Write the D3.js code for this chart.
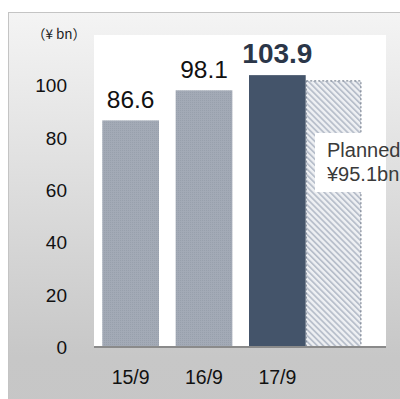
<!DOCTYPE html>
<html><head><meta charset="utf-8">
<script src="https://cdn.jsdelivr.net/npm/d3@7"></script>
<style>html,body{margin:0;padding:0;background:#fff;overflow:hidden}</style>
</head><body>
<svg id="c" width="400" height="399"></svg>
<script>
const categories = ["15/9", "16/9", "17/9"];
const values = [86.6, 98.1, 103.9];
const plannedValue = 101.7;
const plannedLabel = ["Planned", "¥95.1bn"];
const yTicks = [0, 20, 40, 60, 80, 100];
const unitLabel = "（¥ bn）";

const svg = d3.select("#c");
const defs = svg.append("defs");

const grad = defs.append("linearGradient").attr("id", "bg")
  .attr("x1", 0).attr("y1", 0).attr("x2", 0).attr("y2", 1);
grad.append("stop").attr("offset", "0").attr("stop-color", "#f4f4f4");
grad.append("stop").attr("offset", "0.82").attr("stop-color", "#c7c7c7");
grad.append("stop").attr("offset", "1").attr("stop-color", "#c6c6c6");

const hatch = defs.append("pattern").attr("id", "hatch")
  .attr("patternUnits", "userSpaceOnUse").attr("width", 4.2).attr("height", 4.2)
  .attr("patternTransform", "rotate(-45)");
hatch.append("rect").attr("width", 4.2).attr("height", 4.2).attr("fill", "#eef0f3");
hatch.append("rect").attr("width", 1.8).attr("height", 4.2).attr("fill", "#b8bfcb");

const dots = defs.append("pattern").attr("id", "dots")
  .attr("patternUnits", "userSpaceOnUse").attr("width", 2).attr("height", 2);
dots.append("rect").attr("width", 2).attr("height", 2).attr("fill", "#a3aab6");
dots.append("rect").attr("width", 1).attr("height", 1).attr("fill", "#98a0ac");

// outer panel
svg.append("rect").attr("x", 8.5).attr("y", 12.5).attr("width", 420).attr("height", 420)
  .attr("fill", "url(#bg)").attr("stroke", "#c4c4c4").attr("stroke-width", 1);

const plot = { left: 94, right: 386, top: 35, bottom: 347 };

const y = d3.scaleLinear().domain([0, 120]).range([plot.bottom, 33]);
const x = d3.scaleBand().domain(categories).range([94, 314])
  .paddingInner(0.227).paddingOuter(0.113);

// plot area
svg.append("rect").attr("x", plot.left).attr("y", plot.top)
  .attr("width", plot.right - plot.left).attr("height", plot.bottom - plot.top)
  .attr("fill", "#ffffff");

// bars
svg.selectAll("rect.bar").data(values).enter().append("rect").attr("class", "bar")
  .attr("x", (d, i) => x(categories[i]))
  .attr("y", d => y(d))
  .attr("width", x.bandwidth())
  .attr("height", d => y(0) - y(d))
  .attr("fill", (d, i) => i === values.length - 1 ? "#44546a" : "url(#dots)");

// planned bar
const last = categories[categories.length - 1];
svg.append("rect")
  .attr("x", x(last) + x.bandwidth() + 0.5)
  .attr("y", y(plannedValue))
  .attr("width", x.bandwidth() - 2)
  .attr("height", y(0) - y(plannedValue))
  .attr("fill", "url(#hatch)")
  .attr("stroke", "#6b7585").attr("stroke-width", 1).attr("stroke-dasharray", "2,2");

// value labels
svg.selectAll("text.val").data(values).enter().append("text").attr("class", "val")
  .attr("x", (d, i) => x(categories[i]) + x.bandwidth() / 2)
  .attr("y", d => y(d) - 12)
  .attr("text-anchor", "middle")
  .attr("font-family", "Liberation Sans, Arial, sans-serif")
  .attr("font-size", (d, i) => i === values.length - 1 ? 28 : 24.5)
  .attr("font-weight", (d, i) => i === values.length - 1 ? "bold" : "normal")
  .attr("fill", (d, i) => i === values.length - 1 ? "#2b3648" : "#111")
  .text(d => d.toFixed(1));

// axis line
svg.append("line").attr("x1", plot.left).attr("x2", plot.right)
  .attr("y1", y(0)).attr("y2", y(0))
  .attr("stroke", "#8a8a8a").attr("stroke-width", 2);

// y tick labels
svg.selectAll("text.yt").data(yTicks).enter().append("text").attr("class", "yt")
  .attr("x", 67).attr("y", d => y(d) + 7)
  .attr("text-anchor", "end")
  .attr("font-family", "Liberation Sans, Arial, sans-serif")
  .attr("font-size", 19).attr("fill", "#111")
  .text(d => d);

// x tick labels
svg.selectAll("text.xt").data(categories).enter().append("text").attr("class", "xt")
  .attr("x", d => x(d) + x.bandwidth() / 2)
  .attr("y", 384)
  .attr("text-anchor", "middle")
  .attr("font-family", "Liberation Sans, Arial, sans-serif")
  .attr("font-size", 19.5).attr("fill", "#111")
  .text(d => d);

// unit label
svg.append("text").attr("x", 59).attr("y", 39).attr("text-anchor", "middle")
  .attr("font-family", "Noto Sans CJK JP, Liberation Sans, sans-serif")
  .attr("font-size", 13.5).attr("fill", "#222").text(unitLabel);

// planned callout
svg.append("rect").attr("x", 315).attr("y", 133).attr("width", plot.right - 315).attr("height", 59)
  .attr("fill", "#ffffff");
svg.selectAll("text.pl").data(plannedLabel).enter().append("text").attr("class", "pl")
  .attr("x", 327).attr("y", (d, i) => 157 + i * 24)
  .attr("font-family", "Liberation Sans, Arial, sans-serif")
  .attr("font-size", 20).attr("fill", "#3a3a3a")
  .text(d => d);
</script>
</body></html>
